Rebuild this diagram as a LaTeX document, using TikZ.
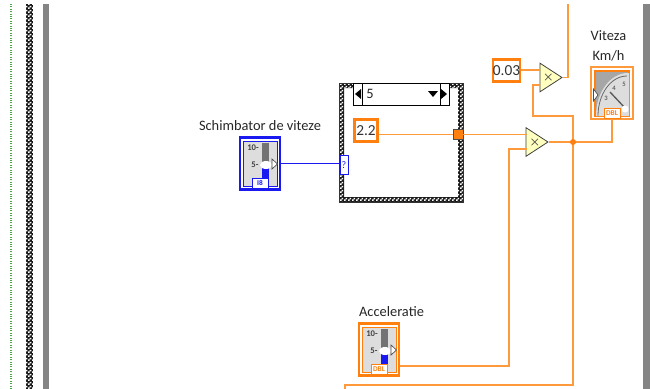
\documentclass[tikz,border=0pt]{standalone}
\usepackage{fontspec}
\setmainfont{Carlito}
\usetikzlibrary{shapes.geometric,patterns}
\definecolor{wireorange}{HTML}{FF9A3C}
\definecolor{dbl}{HTML}{FF7F0F}
\definecolor{intblue}{HTML}{1A1AF0}
\definecolor{panelgray}{HTML}{DDDDDD}
\definecolor{multfill}{HTML}{FFFFC0}
\definecolor{bargray}{HTML}{858585}
\pgfdeclarepatternformonly{wallcheck}{\pgfqpoint{0pt}{0pt}}{\pgfqpoint{3pt}{3pt}}{\pgfqpoint{3pt}{3pt}}{
    \pgfpathrectangle{\pgfqpoint{0pt}{0pt}}{\pgfqpoint{1.5pt}{1.5pt}}
    \pgfpathrectangle{\pgfqpoint{1.5pt}{1.5pt}}{\pgfqpoint{1.5pt}{1.5pt}}
    \pgfusepath{fill}
}
\begin{document}
\begin{tikzpicture}[
        x=0.75pt, y=-0.75pt,
        labeltext/.style={font=\fontsize{10.8}{14.5}\selectfont, text=black!85, inner sep=0pt, align=center},
        wire/.style={draw=wireorange, line width=0.9pt},
        intwire/.style={draw=intblue, line width=1.2pt},
        const/.style={draw=dbl, line width=1.9pt, fill=white, font=\fontsize{11.5}{12}\selectfont, text=black!80, inner sep=0pt, minimum height=16.5pt},
        mult/.style={draw=black!75, line width=0.6pt, fill=multfill, isosceles triangle, isosceles triangle stretches, minimum width=21.5pt, minimum height=16.5pt, inner sep=0pt, anchor=apex},
        multsign/.style={font=\fontsize{9}{9}\selectfont\boldmath, text=black!75, inner sep=0pt},
        tag/.style={draw=#1, line width=0.6pt, fill=white, text=#1, font=\fontsize{5.5}{6}\selectfont\bfseries, inner sep=0pt, minimum width=12pt, minimum height=7.5pt},
        checker/.style={fill=black!90, even odd rule, postaction={pattern=wallcheck, pattern color=white}}
    ]
        \useasboundingbox (0,0) rectangle (650,389);
        % side bars of the window
        \draw[green!50!black!70, line width=0.8pt, densely dotted] (11,4) -- (11,389);
        \path[checker] (26,4) rectangle (33,389);
        \fill[bargray] (43,4) rectangle (49,389);
        \fill[bargray] (643,4) rectangle (650,389);

        % case structure
        \path[checker] (339,83) rectangle (463,202) (344,88) rectangle (458,197);
        \draw[black!80, line width=0.4pt] (339,83) rectangle (463,202);
        \node[draw=black, line width=0.6pt, fill=white, minimum width=72pt, minimum height=16.5pt, inner sep=0pt] (selector) at (401,94) {};
        \draw[line width=0.6pt] (362,83) -- (362,105) (440,83) -- (440,105);
        \fill (355,94) -- (361,89) -- (361,99) -- cycle;
        \fill (447,94) -- (441,89) -- (441,99) -- cycle;
        \fill (428,91) -- (438,91) -- (433,97) -- cycle;
        \node[labeltext, anchor=west] (casevalue) at (366,94) {5};
        \node[const, minimum width=17pt] (gain) at (366,130.5) {2.2};
        \node[draw=black!70, fill=dbl, line width=0.5pt, minimum size=7.5pt, inner sep=0pt] (tunnel) at (458,134.5) {};
        \node[draw=intblue, fill=white, line width=0.6pt, minimum width=6pt, minimum height=14pt, inner sep=0pt, text=intblue, font=\fontsize{7.5}{8}\selectfont] (selectorin) at (344,165) {?};

        % sliders
        \foreach \name/\x/\y/\col/\lab in {
            schimbator/239/137/intblue/I8,
            acceleratie/358/323/dbl/DBL
        } {
            \begin{scope}[shift={(\x,\y)}]
                \node[draw=\col, line width=1.8pt, fill=white, minimum width=30pt, minimum height=39pt, inner sep=0pt] (\name) at (21,26.5) {};
                \draw[\col, line width=0.6pt, fill=panelgray] (4,4) rectangle (38,49);
                \fill[black!55] (23,6) rectangle (30,30);
                \fill[intblue] (23,30) rectangle (30,41);
                \fill[white] (27,28) ellipse (6 and 4);
                \draw[black!70, line width=0.5pt, fill=white] (33,22) -- (38.5,27) -- (33,32) -- cycle;
                \node[font=\fontsize{6.5}{7}\selectfont\bfseries, text=black!75, inner sep=0pt] (\name ten) at (14,11) {10-};
                \node[font=\fontsize{6.5}{7}\selectfont\bfseries, text=black!75, inner sep=0pt] (\name five) at (16,28) {5-};
                \node[tag=\col] (\name tag) at (21,46) {\lab};
            \end{scope}
        }
        \node[labeltext, anchor=base] (schimbatorlabel) at (260,130) {Schimbator de viteze};
        \node[labeltext, anchor=base] (acceleratielabel) at (391.5,316) {Acceleratie};

        % multiply
        \node[mult] (multlow) at (549,142) {};
        \node[multsign] (multlowsign) at (535,142) {$\times$};
        \node[mult] (multup) at (563,77.5) {};
        \node[multsign] (multupsign) at (548.5,77.5) {$\times$};
        \node[const, minimum width=20pt] (factor) at (506.5,70.5) {0.03};

        % gauge
        \node[draw=wireorange, line width=0.8pt, fill=white, minimum width=31.5pt, minimum height=39pt, inner sep=0pt] (viteza) at (612,93) {};
        \draw[dbl, line width=1pt, fill=black!35] (595,71) rectangle (629,116);
        \fill[panelgray] (596,116) arc (180:270:32 and 43) -- (629,73) -- (629,116) -- cycle;
        \draw[black!60, line width=0.6pt] (598,116) arc (180:270:29 and 40);
        \draw[black!65, line width=1pt] (625,108) -- (610,92);
        \fill[white] (625,109) circle (3.5);
        \draw[black!70, line width=0.5pt, fill=white] (593.5,89) -- (598,95) -- (593.5,101) -- cycle;
        \node[font=\fontsize{5}{5}\selectfont\bfseries, text=black!60, inner sep=0pt] (gaugethree) at (606,98) {3};
        \node[font=\fontsize{5}{5}\selectfont\bfseries, text=black!60, inner sep=0pt] (gaugefour) at (614,88) {4};
        \node[font=\fontsize{5}{5}\selectfont\bfseries, text=black!60, inner sep=0pt] (gaugefive) at (624,84) {5};
        \node[tag=dbl] (vitezatag) at (612,113) {DBL};
        \node[labeltext] (vitezalabel) at (608.5,46) {Viteza\\Km/h};

        % free ends and bends of the wires
        \coordinate (topend) at (568,4);
        \coordinate (junction) at (573,142);
        \coordinate (bottomend) at (345,389);

        % wires
        \draw[intwire] (schimbator.east) -- (selectorin.west |- schimbator.east);
        \draw[wire] (gain.east |- tunnel) -- (tunnel.west);
        \draw[wire] (tunnel.east) -- (527,134.5);
        \draw[wire] (factor.east |- 0,70) -- (540,70);
        \draw[wire] (multup.apex) -- (568,77.5) -- (topend);
        \draw[wire] (540,85) -- (533,85) -- (533,116) -- (573,116) -- (junction);
        \draw[wire] (multlow.apex) -- (junction) -- (612,142) -- (viteza.south);
        \draw[wire] (acceleratie.east |- 0,366) -- (509,366) -- (509,149) -- (527,149);
        \draw[wire] (junction) -- (573,385) -- (345,385) -- (bottomend);
        \fill[dbl] (junction) circle (3);
    \end{tikzpicture}
\end{document}
